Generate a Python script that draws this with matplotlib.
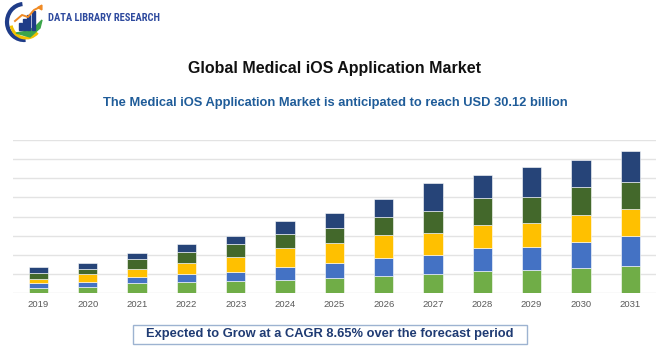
"""Global Medical iOS Application Market - stacked bar recreation."""

import matplotlib
matplotlib.use("Agg")
import matplotlib.pyplot as plt
import numpy as np
from matplotlib import font_manager
from matplotlib.patches import Arc, Rectangle, Polygon, FancyBboxPatch

plt.rcParams["font.family"] = ["Liberation Sans", "DejaVu Sans"]

YEARS = ["2019", "2020", "2021", "2022", "2023", "2024", "2025",
         "2026", "2027", "2028", "2029", "2030", "2031"]

# segment heights (chart units), bottom to top
SEG_1 = [0.26, 0.35, 0.52, 0.59, 0.66, 0.70, 0.82, 0.90, 1.01, 1.18, 1.22, 1.30, 1.43]
SEG_2 = [0.30, 0.24, 0.35, 0.40, 0.44, 0.69, 0.78, 0.96, 0.99, 1.20, 1.21, 1.40, 1.58]
SEG_3 = [0.19, 0.40, 0.40, 0.61, 0.81, 0.99, 1.01, 1.20, 1.13, 1.20, 1.24, 1.40, 1.41]
SEG_4 = [0.33, 0.28, 0.50, 0.54, 0.66, 0.72, 0.82, 0.91, 1.17, 1.39, 1.37, 1.43, 1.41]
SEG_5 = [0.29, 0.30, 0.33, 0.43, 0.42, 0.66, 0.76, 0.93, 1.44, 1.19, 1.57, 1.41, 1.58]

SEG_COLORS = ["#70AD47", "#4472C4", "#FFC000", "#43682B", "#264478"]

TITLE = "Global Medical iOS Application Market"
SUBTITLE = "The Medical iOS Application Market is anticipated to reach USD 30.12 billion"
FOOTER = "Expected to Grow at a CAGR 8.65% over the forecast period"

# condensed font for the logo, if one is around
_installed = {f.name for f in font_manager.fontManager.ttflist}
LOGO_FONT, LOGO_FS = "Liberation Sans", 6.4
for _name in ["Liberation Sans Narrow", "DejaVu Sans Condensed", "Roboto Condensed"]:
    if _name in _installed:
        LOGO_FONT, LOGO_FS = _name, 7.6
        break


def draw_logo(fig):
    # axes in pixel units: top 50 px strip, left 170 px
    lax = fig.add_axes([0.0, 300 / 350, 170 / 670, 50 / 350])
    lax.set_xlim(0, 170)
    lax.set_ylim(0, 50)
    lax.axis("off")
    lax.add_patch(Arc((24, 28), 34, 36, theta1=95, theta2=275, lw=3.0, color="#1F3C88"))
    lax.add_patch(Arc((26, 27), 30, 30, theta1=190, theta2=320, lw=2.2, color="#F2C200"))
    lax.add_patch(Polygon([[16, 17], [30, 13], [40, 22], [42, 30], [36, 24], [28, 19]],
                          color="#3BA54A"))
    for i, h in enumerate([7, 11, 15, 19]):
        lax.add_patch(Rectangle((19 + i * 4.2, 20), 3.0, h, color="#1F3C88"))
    lax.plot([15, 22, 28, 34, 40], [29, 35, 33, 40, 43], color="#F08A24", lw=1.4)
    lax.plot([40], [43], marker=(3, 0, -30), color="#F08A24", markersize=4)
    lax.text(48, 32, "DATA LIBRARY RESEARCH", fontsize=LOGO_FS, fontweight="bold",
             color="#2E4A9E", va="center", ha="left",
             family=[LOGO_FONT, "DejaVu Sans"])


def main():
    fig = plt.figure(figsize=(6.7, 3.5), dpi=100)

    draw_logo(fig)

    fig.text(0.5, 0.805, TITLE, ha="center", va="center",
             fontsize=11.5, fontweight="bold", color="#111111")
    fig.text(0.5, 0.705, SUBTITLE, ha="center", va="center",
             fontsize=9.3, fontweight="bold", color="#1F5C99")

    ax = fig.add_axes([0.019, 0.162, 0.96, 0.438])
    x = np.arange(len(YEARS))
    bottom = np.zeros(len(YEARS))
    for seg, col in zip([SEG_1, SEG_2, SEG_3, SEG_4, SEG_5], SEG_COLORS):
        ax.bar(x, seg, width=0.39, bottom=bottom, color=col,
               edgecolor="#FFFFFF", linewidth=0.4, zorder=3)
        bottom += np.array(seg)

    ax.set_xlim(-0.52, 12.52)
    ax.set_ylim(0, 8)
    ax.set_yticks(np.arange(0, 9, 1))
    ax.yaxis.grid(True, color="#E3E3E3", linewidth=1.0, zorder=0)
    ax.tick_params(axis="y", left=False, labelleft=False)
    ax.tick_params(axis="x", length=0, pad=5, labelsize=6.8, labelcolor="#595959")
    ax.set_xticks(x)
    ax.set_xticklabels(YEARS)
    for s in ax.spines.values():
        s.set_visible(False)

    # footer box (figure fraction coords)
    fig.patches.append(FancyBboxPatch(
        (133 / 670, 6 / 350), 394 / 670, 19 / 350, boxstyle="square,pad=0",
        transform=fig.transFigure, facecolor="white",
        edgecolor="#9DB3D1", linewidth=1.0))
    fig.text(330 / 670, 15.5 / 350, FOOTER, ha="center", va="center",
             fontsize=9.3, fontweight="bold", color="#1F3B73")

    fig.savefig("out.png", dpi=100)
    plt.close(fig)


if __name__ == "__main__":
    main()
